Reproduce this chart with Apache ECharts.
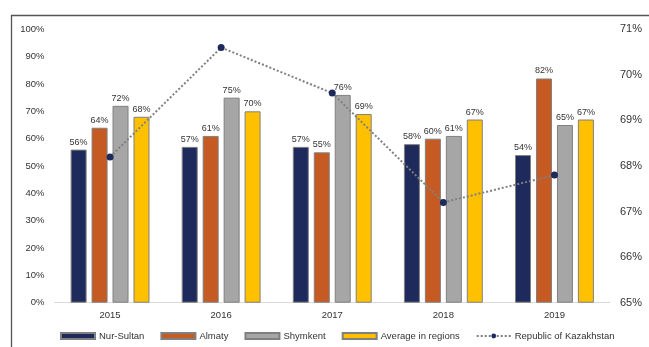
<!DOCTYPE html>
<html>
<head>
<meta charset="utf-8">
<script src="https://cdn.jsdelivr.net/npm/echarts@6/dist/echarts.min.js"></script>
<style>
html,body{margin:0;padding:0;background:#fff;}
#c{width:649px;height:347px;}
</style>
</head>
<body>
<div id="c"></div>
<script>
var years = ['2015', '2016', '2017', '2018', '2019'];
var nurSultan = [56, 57, 57, 58, 54];
var almaty = [64, 61, 55, 60, 82];
var shymkent = [72, 75, 76, 61, 65];
var avgRegions = [68, 70, 69, 67, 67];
var kazakhstan = [68.2, 70.6, 69.6, 67.2, 67.8];
var leftTicks = {min: 0, max: 100, interval: 10};
var rightTicks = {min: 65, max: 71, interval: 1};

var font = 'Liberation Sans, Arial, sans-serif';
var chart = echarts.init(document.getElementById('c'));

function barSeries(name, data, color) {
  return {
    name: name,
    type: 'bar',
    data: data,
    barWidth: 16,
    barGap: '31%',
    itemStyle: {color: color, borderColor: '#808080', borderWidth: 1},
    label: {
      show: true, position: 'top', distance: 3,
      formatter: '{c}%', fontSize: 9, color: '#333', fontFamily: font
    },
    z: 2
  };
}

chart.setOption({
  animation: false,
  backgroundColor: '#fff',
  textStyle: {fontFamily: font},
  graphic: [{
    type: 'rect',
    shape: {x: 11.5, y: 15.5, width: 700, height: 400},
    style: {fill: 'none', stroke: '#555', lineWidth: 1.3},
    silent: true
  }],
  grid: {left: 54.5, right: 39, top: 29.3, bottom: 44.3, containLabel: false},
  legend: {
    left: 60, top: 331, padding: 0,
    itemWidth: 34, itemHeight: 6, itemGap: 16,
    textStyle: {fontSize: 9.5, color: '#333', fontFamily: font, padding: [0, 0, 0, -1]},
    data: [
      {name: 'Nur-Sultan', icon: 'rect'},
      {name: 'Almaty', icon: 'rect'},
      {name: 'Shymkent', icon: 'rect'},
      {name: 'Average in regions', icon: 'rect'},
      {name: 'Republic of Kazakhstan'}
    ]
  },
  xAxis: {
    type: 'category',
    data: years,
    axisLine: {show: true, lineStyle: {color: '#d9d9d9', width: 1}},
    axisTick: {show: false},
    axisLabel: {fontSize: 9.5, color: '#333', margin: 8, fontFamily: font}
  },
  yAxis: [{
    type: 'value',
    min: leftTicks.min, max: leftTicks.max, interval: leftTicks.interval,
    splitLine: {show: false},
    axisLine: {show: false},
    axisTick: {show: false},
    axisLabel: {formatter: '{value}%', fontSize: 9.5, color: '#333', margin: 10, fontFamily: font}
  }, {
    type: 'value',
    position: 'right',
    min: rightTicks.min, max: rightTicks.max, interval: rightTicks.interval,
    splitLine: {show: false},
    axisLine: {show: false},
    axisTick: {show: false},
    axisLabel: {formatter: '{value}%', fontSize: 11, color: '#333', margin: 10, fontFamily: font}
  }],
  series: [
    barSeries('Nur-Sultan', nurSultan, '#1f2a5c'),
    barSeries('Almaty', almaty, '#c55a22'),
    barSeries('Shymkent', shymkent, '#a6a6a6'),
    barSeries('Average in regions', avgRegions, '#ffc000'),
    {
      name: 'Republic of Kazakhstan',
      type: 'line',
      yAxisIndex: 1,
      data: kazakhstan,
      symbol: 'circle',
      symbolSize: 7,
      lineStyle: {color: '#808080', width: 2, type: [2, 2]},
      itemStyle: {color: '#1f2a5c'},
      z: 5
    }
  ]
});
</script>
</body>
</html>
